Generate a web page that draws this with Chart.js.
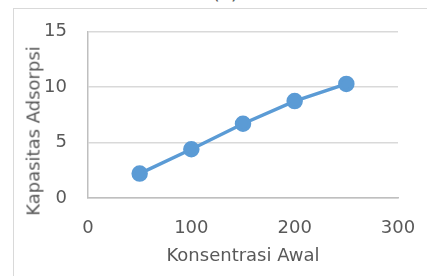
<!DOCTYPE html>
<html>
<head>
<meta charset="utf-8">
<script src="https://cdn.jsdelivr.net/npm/chart.js@4/dist/chart.umd.min.js"></script>
<style>
    html, body { margin: 0; padding: 0; background: #fff; }
    #wrap { position: relative; width: 427px; height: 276px; overflow: hidden; }
    #frame { position: absolute; left: 13px; top: 8px; right: -2px; bottom: -2px; border-left: 1px solid #d9d9d9; border-top: 1px solid #d9d9d9; }
    #title { position: absolute; left: 212px; top: -20px; font: 20px "DejaVu Sans", sans-serif; color: #595959; }
    #ytitle { position: absolute; left: 33px; top: 131px; transform: translate(-50%, -50%) rotate(-90deg); white-space: nowrap; font: 18px "DejaVu Sans", sans-serif; color: #595959; }
    canvas { position: absolute; left: 0; top: 0; }
</style>
</head>
<body>
<div id="wrap">
    <div id="frame"></div>
    <div id="title">(c)</div>
    <canvas id="chart" width="427" height="276"></canvas>
    <div id="ytitle">Kapasitas Adsorpsi</div>
</div>
<script>
const konsentrasi = [50, 100, 150, 200, 250];
const kapasitas = [2.2, 4.4, 6.7, 8.75, 10.3];
const xTicks = [0, 100, 200, 300];
const yTicks = [0, 5, 10, 15];

const labelFont = { family: '"DejaVu Sans", sans-serif', size: 18 };
const textColor = '#595959';

new Chart(document.getElementById('chart').getContext('2d'), {
    type: 'scatter',
    data: {
        datasets: [{
            data: konsentrasi.map((x, i) => ({ x: x, y: kapasitas[i] })),
            showLine: true,
            borderColor: '#5b9bd5',
            backgroundColor: '#5b9bd5',
            borderWidth: 3.5,
            pointRadius: 6.5,
            pointHoverRadius: 6.5
        }]
    },
    options: {
        responsive: false,
        animation: false,
        layout: { padding: { left: 22, right: 29, top: 22, bottom: 9 } },
        plugins: { legend: { display: false }, tooltip: { enabled: false } },
        scales: {
            x: {
                type: 'linear',
                min: 0,
                max: 300,
                afterBuildTicks: axis => { axis.ticks = xTicks.map(v => ({ value: v })); },
                afterFit: axis => { axis.height = 69; axis.paddingLeft = 0; axis.paddingRight = 0; },
                grid: { display: false, drawTicks: false },
                border: { color: '#bfbfbf', width: 1.5 },
                ticks: { color: textColor, font: labelFont, padding: 20, maxRotation: 0 },
                title: { display: true, text: 'Konsentrasi Awal', color: textColor, font: labelFont, padding: { top: 5, bottom: 0 } }
            },
            y: {
                type: 'linear',
                min: 0,
                max: 15,
                afterBuildTicks: axis => { axis.ticks = yTicks.map(v => ({ value: v })); },
                afterFit: axis => { axis.width = 66; },
                grid: { color: '#d9d9d9', lineWidth: 1.5, drawTicks: false },
                border: { color: '#bfbfbf', width: 1.5 },
                ticks: { color: textColor, font: labelFont, padding: 21 }
            }
        }
    }
});
</script>
</body>
</html>
